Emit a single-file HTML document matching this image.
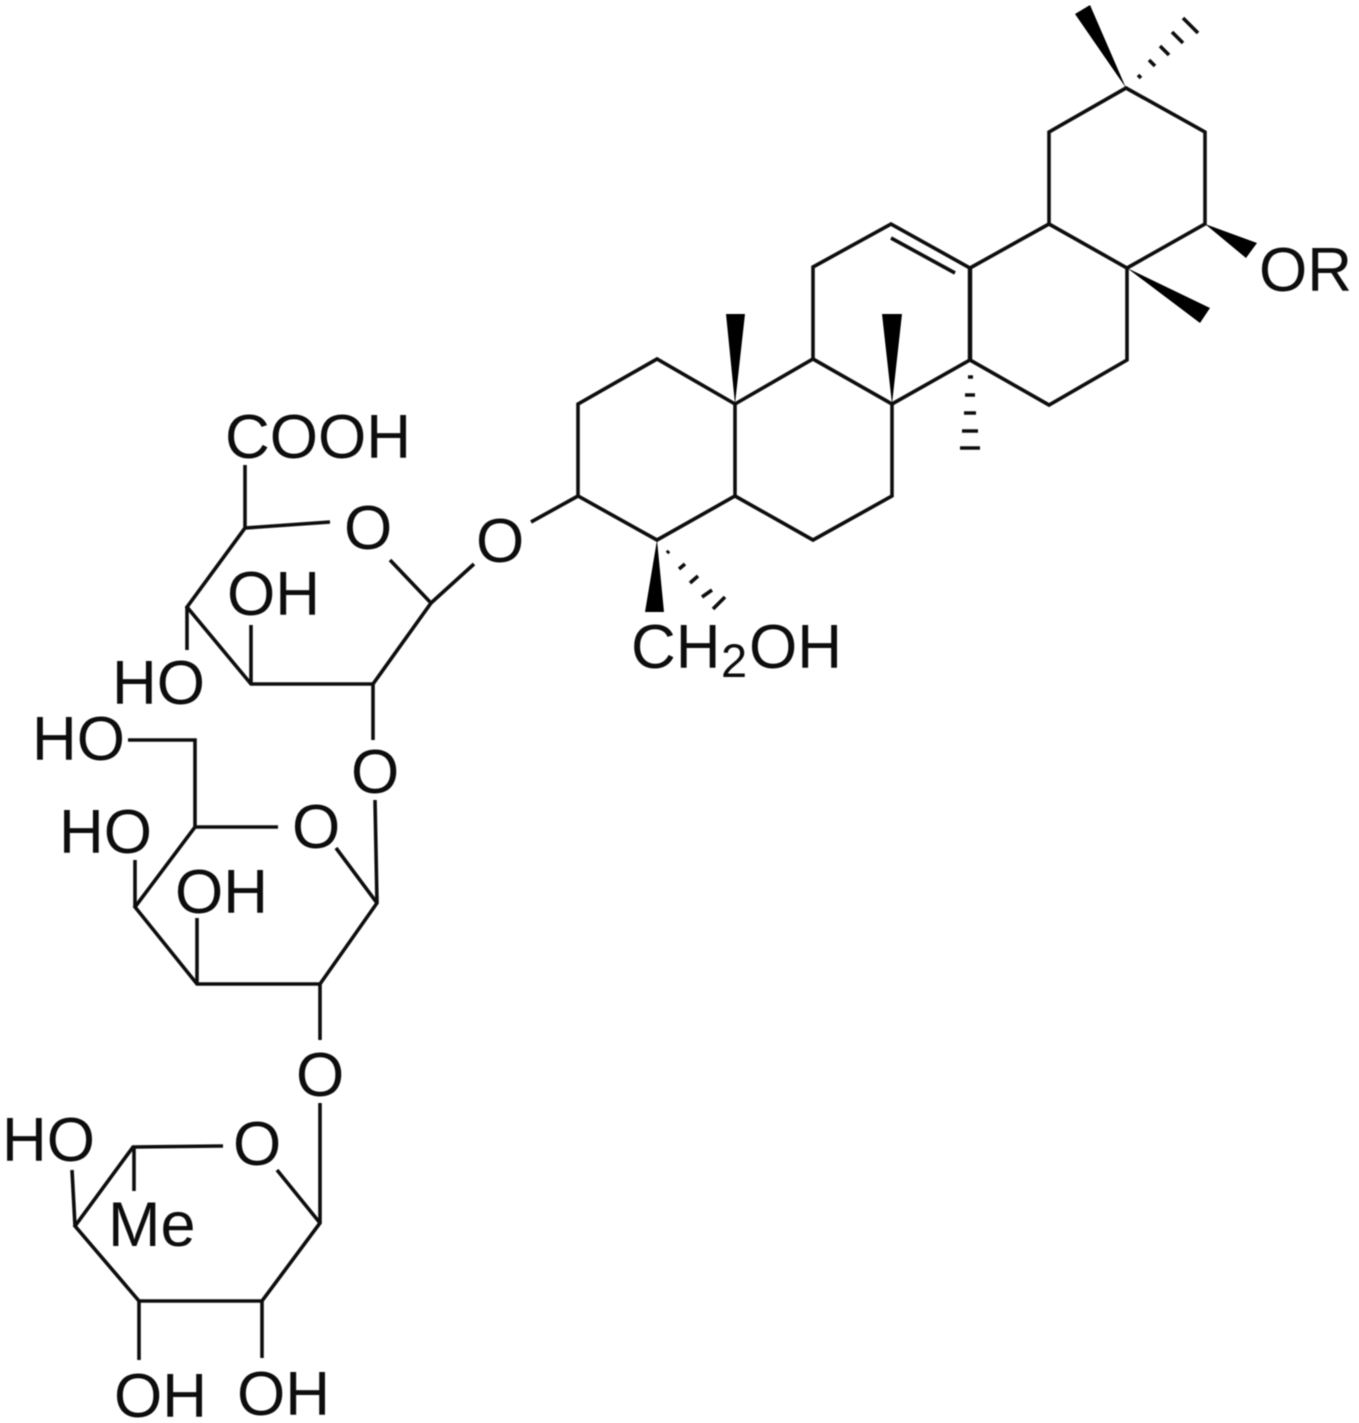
<!DOCTYPE html>
<html><head><meta charset="utf-8"><style>
html,body{margin:0;padding:0;background:#fff}
svg{display:block}
text{font-family:"Liberation Sans",Arial,sans-serif;font-size:62px;fill:#111}
.b{fill:none;stroke:#111;stroke-width:3.6;stroke-linejoin:miter;stroke-linecap:butt}
.h{stroke:#111;stroke-width:3.6;fill:none}
</style></head><body>
<svg width="1359" height="1423" viewBox="0 0 1359 1423" xmlns="http://www.w3.org/2000/svg">
<rect width="1359" height="1423" fill="#fff"/>
<defs><filter id="s" x="0" y="0" width="100%" height="100%"><feGaussianBlur stdDeviation="0.6"/></filter></defs>
<g filter="url(#s)">
<!-- triterpene skeleton -->
<path class="b" d="M578 496L578 404L657 359L735 404L735 496L657 540Z"/>
<path class="b" d="M735 404L813 359L892 404L892 496L813 540L735 496"/>
<path class="b" d="M813 359L813 267L891 224L970 268L970 360L892 404"/>
<path class="b" d="M891 238L955 273"/>
<path class="b" d="M970 268L1049 224L1127 268L1127 360L1049 405L970 360"/>
<path class="b" d="M1049 224L1049 132L1126 88L1205 132L1205 224L1127 268"/>
<path class="b" d="M970 268L970 360" style="stroke-width:4.4"/>
<path class="b" d="M578 496L531 522"/>
<!-- wedges -->
<polygon points="735,404 726,314 745,314" fill="#000"/>
<polygon points="892,404 882,314 902,314" fill="#000"/>
<polygon points="657,540 645,612 664,612" fill="#000"/>
<polygon points="1126,88 1075,14 1090,5" fill="#000"/>
<polygon points="1205,224 1257,243 1246,258" fill="#000"/>
<polygon points="1127,268 1210,308 1200,323" fill="#000"/>
<!-- hashes -->
<path class="h" d="M968 377L973 377M965 395L975 395M964 413L976 413M962 431L978 431M960 448L980 448"/>
<path class="h" d="M1138 75L1141 78M1149 60L1155 66M1160 46L1169 55M1172 32L1183 43M1183 18L1198 33"/>
<path class="h" d="M667 553L669 551M679 569L685 564M690 583L698 576M702 597L712 590M713 609L725 597"/>
<!-- sugar 1 -->
<path class="b" d="M245 528L330 522M390 560L431 603L373 684L251 684L187 607L245 528L245 465"/>
<path class="b" d="M431 603L474 564"/>
<path class="b" d="M251 684L251 625M187 607L187 650M373 684L373 740"/>
<!-- sugar 2 -->
<path class="b" d="M375 800L377 903L320 984L197 984L135 907L195 827L278 827M336 848L377 903"/>
<path class="b" d="M195 827L195 740L128 740M135 907L135 860M197 984L197 918M320 984L320 1040"/>
<!-- sugar 3 -->
<path class="b" d="M320 1103L320 1223L262 1301L139 1301L75 1226L133 1147L223 1146M277 1170L320 1223"/>
<path class="b" d="M75 1226L72 1170M134 1147L134 1191M139 1301L139 1360M262 1301L262 1358"/>
<!-- labels -->
<text x="1259" y="291">OR</text>
<text x="631" y="668">CH</text>
<text x="721" y="677" style="font-size:47px">2</text>
<text x="749" y="668">OH</text>
<text x="476" y="562">O</text>
<text x="344" y="549">O</text>
<text x="225" y="458">COOH</text>
<text x="227" y="615">OH</text>
<text x="112" y="704">HO</text>
<text x="351" y="793">O</text>
<text x="32" y="760">HO</text>
<text x="292" y="848">O</text>
<text x="59" y="853">HO</text>
<text x="175" y="913">OH</text>
<text x="296" y="1096">O</text>
<text x="2" y="1161">HO</text>
<text x="233" y="1165">O</text>
<text x="108" y="1246" style="font-size:63px">Me</text>
<text x="114" y="1417">OH</text>
<text x="237" y="1415">OH</text>
</g>
</svg>
</body></html>
